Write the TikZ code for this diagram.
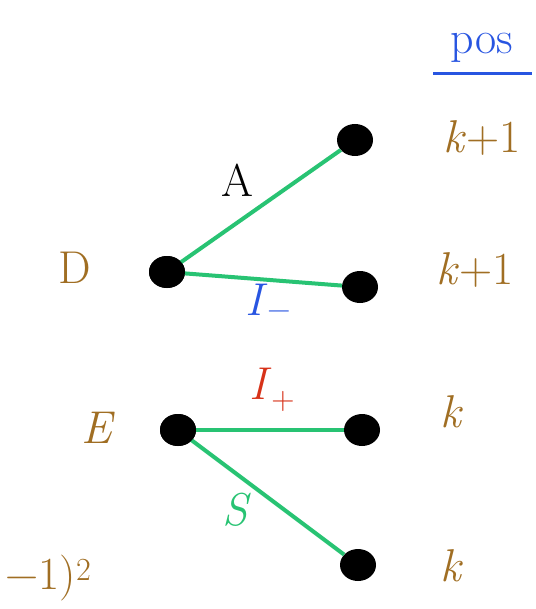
\documentclass[tikz,border=0pt]{standalone}
\usepackage{amsmath}
\usepackage{fontspec}
\usepackage{tikz}
\usetikzlibrary{shapes.geometric}

\definecolor{edgegreen}{RGB}{40,195,115}
\definecolor{inkbrown}{RGB}{160,110,35}
\definecolor{inkblue}{RGB}{40,85,225}
\definecolor{inkred}{RGB}{215,50,25}

\begin{document}
\begin{tikzpicture}[
  x=1pt, y=-1pt,
  dot/.style={ellipse, fill=black, inner sep=0pt, minimum width=36pt, minimum height=32pt},
  link/.style={draw=edgegreen, line width=4pt},
  every node/.style={font=\fontsize{46}{52}\selectfont}
]
\useasboundingbox (0,0) rectangle (535,609);

\node[dot] (D) at (167,272) {};
\node[dot] (Dup) at (355,140) {};
\node[dot] (Dmid) at (360,287) {};
\node[dot] (E) at (178,430) {};
\node[dot] (Eright) at (362,430) {};
\node[dot] (Edown) at (358,565) {};

\draw[link] (D.center) -- (Dup);
\draw[link] (D.center) -- (Dmid);
\draw[link] (E.center) -- (Eright);
\draw[link] (E.center) -- (Edown);

\node[dot] at (D) {};
\node[dot] at (E) {};

\node[text=inkbrown] (labD) at (75,268) {D};
\node[text=inkbrown] (labE) at (98,428) {\textit{E}};
\node (labA) at (237,180) {A};
\node[text=inkblue] (labIm) at (268,302) {\textit{I}\textsubscript{−}};
\node[text=inkred] (labIp) at (272,390) {\textit{I}\textsubscript{+}};
\node[text=edgegreen] (labS) at (237,510) {\textit{S}};

\node[text=inkblue] (pos) at (482,48) {pos};
\draw[inkblue, line width=3pt] (433,74) -- (532,74);
\node[text=inkbrown] (pUp) at (482,138) {\textit{k}+1};
\node[text=inkbrown] (pMid) at (475,270) {\textit{k}+1};
\node[text=inkbrown] (pRight) at (452,412) {\textit{k}};
\node[text=inkbrown] (pDown) at (452,566) {\textit{k}};

\node[text=inkbrown, anchor=west] (tail) at (2,578) {−1)\textsuperscript{2}};
\end{tikzpicture}
\end{document}
